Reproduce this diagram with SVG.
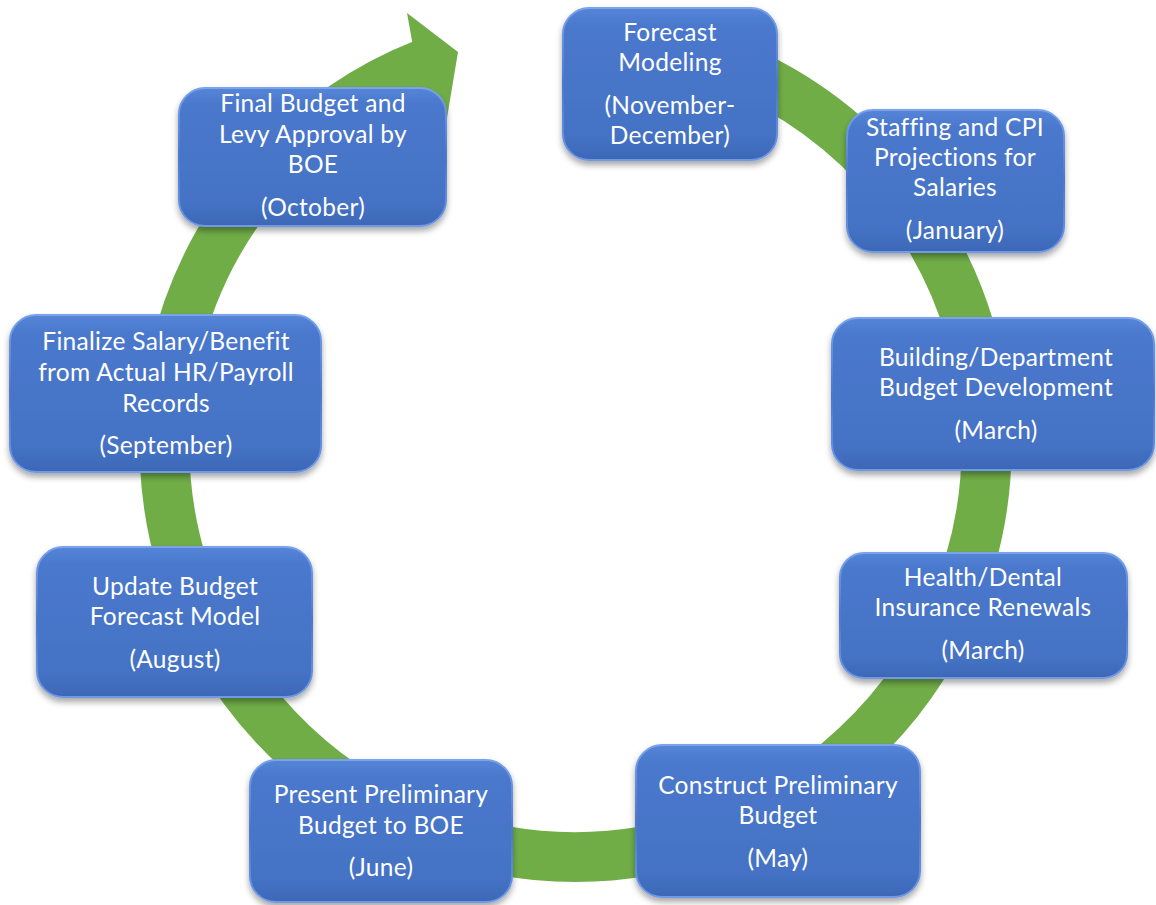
<svg xmlns="http://www.w3.org/2000/svg" width="1156" height="905" viewBox="0 0 1156 905">
<style>
.box{fill:url(#bf);stroke:url(#bs);stroke-width:2;filter:url(#sh)}
.t{font-family:Lato,"Open Sans",sans-serif;font-size:24.5px;letter-spacing:0.3px;fill:#fff;text-anchor:middle}
.ring{fill:none;stroke:#70AD47;stroke-width:50}
</style>
<defs>
<linearGradient id="bf" x1="0" y1="0" x2="0" y2="1">
<stop offset="0" stop-color="#5585d8"/>
<stop offset="0.12" stop-color="#4a78cc"/>
<stop offset="0.85" stop-color="#4472C4"/>
<stop offset="1" stop-color="#3d67b6"/>
</linearGradient>
<linearGradient id="bs" x1="0" y1="0" x2="0" y2="1">
<stop offset="0" stop-color="#7aa3ec"/>
<stop offset="0.5" stop-color="#4a78cc"/>
<stop offset="1" stop-color="#6f9ae6"/>
</linearGradient>
<filter id="sh" x="-10%" y="-10%" width="120%" height="130%">
<feDropShadow dx="0" dy="4" stdDeviation="3" flood-color="#000" flood-opacity="0.35"/>
</filter>
</defs>
<g id="connectors">
<path class="ring" d="M 589.3 35.2 A 411 411 0 1 1 426.4 63.0"/>
<polygon fill="#70AD47" points="407,13 458,52 445,130 420,85"/>
</g>
<g id="n1"><rect class="box" x="563" y="8" width="214" height="152" rx="26"/>
<text class="t" x="670" y="41">Forecast</text><text class="t" x="670" y="71">Modeling</text><text class="t" x="670" y="114">(November-</text><text class="t" x="670" y="144">December)</text></g>
<g id="n2"><rect class="box" x="847" y="110" width="217" height="142" rx="26"/>
<text class="t" x="955" y="136">Staffing and CPI</text><text class="t" x="955" y="166">Projections for</text><text class="t" x="955" y="196">Salaries</text><text class="t" x="955" y="239">(January)</text></g>
<g id="n3"><rect class="box" x="832" y="318" width="322" height="152" rx="26"/>
<text class="t" x="996" y="366">Building/Department</text><text class="t" x="996" y="396">Budget Development</text><text class="t" x="996" y="439">(March)</text></g>
<g id="n4"><rect class="box" x="840" y="553" width="287" height="125" rx="24"/>
<text class="t" x="983" y="586">Health/Dental</text><text class="t" x="983" y="616">Insurance Renewals</text><text class="t" x="983" y="659">(March)</text></g>
<g id="n5"><rect class="box" x="636" y="745" width="284" height="152" rx="26"/>
<text class="t" x="778" y="794">Construct Preliminary</text><text class="t" x="778" y="824">Budget</text><text class="t" x="778" y="867">(May)</text></g>
<g id="n6"><rect class="box" x="250" y="760" width="262" height="142" rx="26"/>
<text class="t" x="381" y="803">Present Preliminary</text><text class="t" x="381" y="834">Budget to BOE</text><text class="t" x="381" y="876">(June)</text></g>
<g id="n7"><rect class="box" x="37" y="547" width="275" height="150" rx="26"/>
<text class="t" x="175" y="595">Update Budget</text><text class="t" x="175" y="625">Forecast Model</text><text class="t" x="175" y="668">(August)</text></g>
<g id="n8"><rect class="box" x="10" y="315" width="311" height="157" rx="26"/>
<text class="t" x="166" y="350">Finalize Salary/Benefit</text><text class="t" x="166" y="381">from Actual HR/Payroll</text><text class="t" x="166" y="412">Records</text><text class="t" x="166" y="454">(September)</text></g>
<g id="n9"><rect class="box" x="179" y="88" width="267" height="138" rx="26"/>
<text class="t" x="313" y="112">Final Budget and</text><text class="t" x="313" y="143">Levy Approval by</text><text class="t" x="313" y="173">BOE</text><text class="t" x="313" y="216">(October)</text></g>
</svg>
